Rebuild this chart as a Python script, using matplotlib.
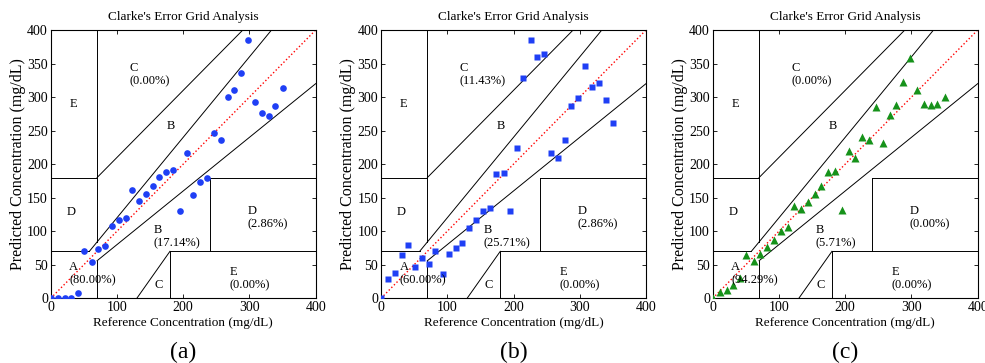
"""Clarke's error grid analysis for three prediction models, panels (a)-(c)."""

import numpy as np
import matplotlib.pyplot as plt

plt.rcParams["font.family"] = ["Liberation Serif", "DejaVu Serif"]
plt.rcParams["mathtext.fontset"] = "stix"

# ----------------------------------------------------------------------
# Data
# ----------------------------------------------------------------------
ref = np.array([0, 10.5, 21, 31, 41, 51, 62, 72, 82, 93, 103, 113, 123, 133,
                144, 154, 164, 174, 185, 195, 205, 215, 226, 236, 246, 257,
                267, 277, 287, 298, 308, 319, 329, 339, 350])

pred_a = np.array([0, 0, 0, 0, 7.5, 71, 54, 74, 77.5, 108, 116, 120, 161, 145,
                   155, 167.5, 181, 189, 192, 130, 216.5, 154.5, 174, 180, 247,
                   236.5, 300, 310, 336, 384.5, 292, 276, 272, 286, 314])

pred_b = np.array([0, 29, 38, 64.5, 80, 47, 59.5, 50.5, 71, 36, 65.5, 74.5, 82,
                   105, 117, 130, 134, 185, 187, 130, 224.5, 329, 384.5, 360,
                   364, 216.5, 208.5, 235.5, 286, 299, 346, 315, 321.5, 295, 262])

pred_c = np.array([0, 10, 12, 20.5, 31, 64, 56, 66, 77, 86.5, 101, 106.5, 137,
                   133.5, 143.5, 156, 168, 189, 190.5, 131, 219, 209, 240, 236,
                   285.5, 232, 273, 288, 322, 359, 310, 289.5, 288, 289.5, 299.5])

panel_names = ["(a)", "(b)", "(c)"]
pct_a = ["80.00%", "60.00%", "94.29%"]
pct_b = ["17.14%", "25.71%", "5.71%"]
pct_c = ["0.00%", "11.43%", "0.00%"]
pct_d = ["2.86%", "2.86%", "0.00%"]
pct_e = ["0.00%", "0.00%", "0.00%"]

# zone boundaries of the Clarke grid: (x0, x1), (y0, y1)
zone_lines = [
    ((0, 175 / 3), (70, 70)),
    ((175 / 3, 400 / 1.2), (70, 400)),
    ((70, 70), (84, 400)),
    ((0, 70), (180, 180)),
    ((70, 290), (180, 400)),
    ((70, 70), (0, 56)),
    ((70, 400), (56, 320)),
    ((180, 180), (0, 70)),
    ((180, 400), (70, 70)),
    ((240, 240), (70, 180)),
    ((240, 400), (180, 180)),
    ((130, 180), (0, 70)),
]

# ----------------------------------------------------------------------
# Figure
# ----------------------------------------------------------------------
fig = plt.figure(figsize=(9.85, 3.63), dpi=100)

lefts = [50.7 / 985, 381 / 985, 712.7 / 985]
bottom = (363 - 298.3) / 363
width = 265 / 985
height = 268.3 / 363

series = [pred_a, pred_b, pred_c]
markers = [dict(marker="o", ms=4.8, color="#1f3ff5"),
           dict(marker="s", ms=4.3, color="#1f3ff5"),
           dict(marker="^", ms=5.4, color="#16921a")]

fs = 9

for i, ax_left in enumerate(lefts):
    ax = fig.add_axes([ax_left, bottom, width, height])

    for (xs, ys) in zone_lines:
        ax.plot(xs, ys, "-", color="black", lw=0.7)
    ax.plot([0, 400], [0, 400], ":", color="red", lw=1.0)

    ax.plot(ref, series[i], ls="none", mec="none", zorder=3, **markers[i])

    # zone labels
    ax.text(28, 290, "E", fontsize=fs, va="center")
    ax.text(24, 128, "D", fontsize=fs, va="center")
    ax.text(28, 37, "A\n(" + pct_a[i] + ")", fontsize=fs, va="center",
            linespacing=1.15)
    ax.text(119, 333, "C\n(" + pct_c[i] + ")", fontsize=fs, va="center",
            linespacing=1.15)
    ax.text(175, 257, "B", fontsize=fs, va="center")
    ax.text(155, 92, "B\n(" + pct_b[i] + ")", fontsize=fs, va="center",
            linespacing=1.15)
    ax.text(156, 20, "C", fontsize=fs, va="center")
    ax.text(297, 120, "D\n(" + pct_d[i] + ")", fontsize=fs, va="center",
            linespacing=1.15)
    ax.text(270, 30, "E\n(" + pct_e[i] + ")", fontsize=fs, va="center",
            linespacing=1.15)

    ax.set_xlim(0, 400)
    ax.set_ylim(0, 400)
    ax.set_xticks(np.arange(0, 401, 100))
    ax.set_yticks(np.arange(0, 401, 50))
    ax.tick_params(direction="in", length=3, width=0.6, top=True, right=True,
                   labelsize=10, pad=2)
    for sp in ax.spines.values():
        sp.set_linewidth(0.8)

    ax.set_title("Clarke's Error Grid Analysis", fontsize=9.5, pad=7)
    ax.set_xlabel("Reference Concentration (mg/dL)", fontsize=9.5, labelpad=2)
    ax.set_ylabel("Predicted Concentration (mg/dL)", fontsize=11.5, labelpad=1)

    fig.text(ax_left + width / 2, 11 / 363, panel_names[i], fontsize=17,
             ha="center", va="center")

fig.savefig("out.png", dpi=100)
